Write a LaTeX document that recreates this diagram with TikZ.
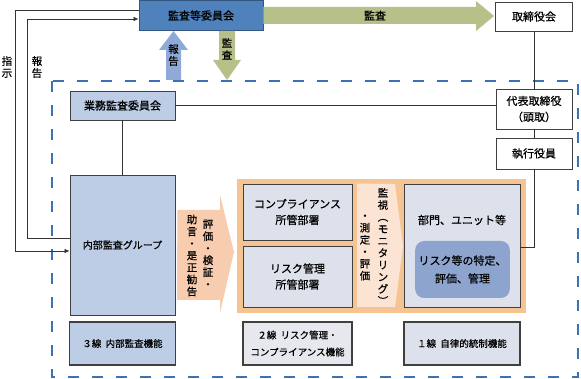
\documentclass[tikz,border=0pt]{standalone}
\usepackage{fontspec}
\setmainfont{Noto Sans CJK JP}[UprightFeatures={FakeBold=0.6}]
\usetikzlibrary{positioning,arrows.meta,calc}
\definecolor{kansablue}{RGB}{79,129,189}
\definecolor{kansaedge}{RGB}{52,86,128}
\definecolor{naibublue}{RGB}{188,205,229}
\definecolor{bugray}{RGB}{221,225,235}
\definecolor{linegray}{RGB}{230,232,238}
\definecolor{riskblue}{RGB}{141,164,206}
\definecolor{frameorange}{RGB}{246,196,146}
\definecolor{advorange}{RGB}{248,204,174}
\definecolor{monipeach}{RGB}{252,228,212}
\definecolor{auditgreen}{RGB}{181,193,137}
\definecolor{reportblue}{RGB}{143,170,214}
\definecolor{dashblue}{RGB}{58,114,180}

\begin{document}
\begin{tikzpicture}[
  x=1pt, y=-1pt,
  box/.style={draw=black!75, line width=0.8pt, fill=#1, inner sep=1pt,
              align=center, font=\fontsize{11}{16}\selectfont},
  box/.default=white,
  linebox/.style={box=#1, line width=1.8pt, font=\fontsize{9.5}{17}\selectfont},
  linebox/.default=bugray,
  conn/.style={draw=black!80, line width=0.7pt},
  tip/.style={-{Latex[length=5pt,width=4.5pt]}},
  vtext/.style={align=center, inner sep=0pt, font=\fontsize{10.5}{12}\selectfont},
]
\useasboundingbox (0,0) rectangle (581,379);

% outer dashed frame
\draw[dashblue, line width=2.4pt, dash pattern=on 11pt off 13pt] (52,81) rectangle (578,377);

% top row
\node[box=kansablue, draw=kansaedge, minimum width=124pt, minimum height=30pt] (kansa) at (201,15.5) {監査等委員会};
\node[box, minimum width=77pt, minimum height=29pt] (torishimari) at (534,16.5) {取締役会};

% management side
\node[box, minimum width=76pt, minimum height=40pt] (daihyo) at (534,109) {代表取締役\\（頭取）};
\node[box, minimum width=76pt, minimum height=31pt] (shikko) at (534,153.5) {執行役員};

% internal audit column
\node[box=naibublue, minimum width=105pt, minimum height=29pt] (gyomu) at (122.5,105.5) {業務監査委員会};
\node[box=naibublue, minimum width=105pt, minimum height=140pt,
      font=\fontsize{10}{12}\selectfont] (naibu) at (122.5,245) {内部監査グループ};

% second and first line block
\node[fill=frameorange, minimum width=289pt, minimum height=134pt, inner sep=0pt] (waku) at (381.5,246) {};
\node[box=bugray, minimum width=109pt, minimum height=56pt] (comp) at (297.5,212) {コンプライアンス\\所管部署};
\node[box=bugray, minimum width=109pt, minimum height=61pt] (risk) at (297.5,276.5) {リスク管理\\所管部署};
\node[box=bugray, minimum width=116pt, minimum height=123pt] (bumon) at (462,245.5) {};
\node[font=\fontsize{11}{14}\selectfont] (bumonlbl) at (462,220) {部門、ユニット等};
\node[fill=riskblue, rounded corners=9pt, minimum width=93pt, minimum height=57pt,
      align=center, font=\fontsize{11}{18}\selectfont] (tokutei) at (462.5,269.5) {リスク等の特定、\\評価、管理};

% monitoring arrow
\fill[monipeach] (comp.north east -| 357,0) -- (395,184) -- (403,246) -- (395,307) -- (357,307) -- cycle;
\node[vtext] (monir) at (383,246.5) {監\\視\\︵\\モ\\ニ\\タ\\リ\\ン\\グ\\︶};
\node[vtext] (monil) at (365,247.5) {・\\測\\定\\・\\評\\価};

% advice arrow
\fill[advorange] (naibu.east |- 0,210) ++(2,0) -- (220,210) -- (220,195) -- (234,252)
  -- (220,313) -- (220,300) -- (177,300) -- cycle;
\node[vtext] (advr) at (208,254) {評\\価\\・\\検\\証\\・};
\node[vtext] (advl) at (192,255.5) {助\\言\\・\\是\\正\\勧\\告};

% bottom labels
\node[linebox=naibublue, minimum width=106pt, minimum height=43pt] (sen3) at (122.5,343.5) {３線\hspace{0.45em}内部監査機能};
\node[linebox=linegray, minimum width=109pt, minimum height=43pt] (sen2) at (297.5,343.5) {２線\hspace{0.45em}リスク管理・\\コンプライアンス機能};
\node[linebox=bugray, minimum width=116pt, minimum height=43pt] (sen1) at (462,343.5) {１線\hspace{0.45em}自律的統制機能};

% block arrows around the audit committee
\fill[auditgreen] (kansa.east |- 0,7) -- (476,7) -- (476,1) -- (494,16) -- (476,31) -- (476,24)
  -- (kansa.east |- 0,24) -- cycle;
\node[font=\fontsize{11}{14}\selectfont] (kansalbl) at (375,15.5) {監査};
\fill[reportblue] (166,80) -- (166,50) -- (159,50) -- (173.5,31) -- (188,50) -- (181,50) -- (181,80) -- cycle;
\node[vtext] (uplbl) at (173.5,55) {報\\告};
\fill[auditgreen] (219,31) -- (235,31) -- (235,60) -- (241,60) -- (227,80) -- (213,60) -- (219,60) -- cycle;
\node[vtext] (downlbl) at (227,49) {監\\査};

% connectors
\draw[conn, tip] (kansa.west |- 0,10) -| (15,251) -- (naibu.west |- 0,251);
\draw[conn, tip] (naibu.west |- 0,238) -| (27,19) -- (kansa.west |- 0,19);
\node[vtext] (shijilbl) at (7,67) {指\\示};
\node[vtext] (hokokulbl) at (37,67) {報\\告};

\draw[conn] (torishimari) -- (daihyo);
\draw[conn] (daihyo) -- (shikko);
\draw[conn] (gyomu.east) -- (gyomu.east -| daihyo.west);
\draw[conn] (gyomu) -- (naibu);
\draw[conn] (shikko.south) |- (bumon.east |- 0,247);
\end{tikzpicture}
\end{document}
